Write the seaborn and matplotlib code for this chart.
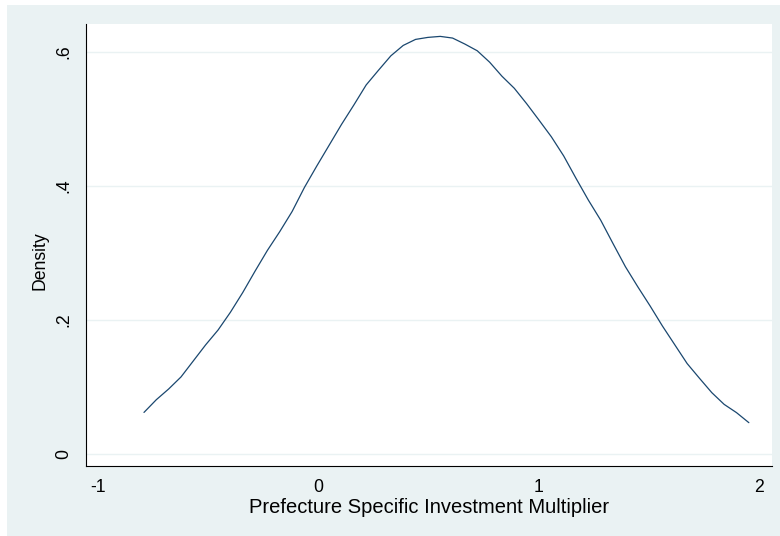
import matplotlib
matplotlib.use("Agg")
import matplotlib.pyplot as plt
import seaborn as sns
import pandas as pd
from matplotlib.patches import Rectangle

# Kernel density estimate of the prefecture specific investment multiplier
multiplier = [
    -0.790, -0.734, -0.678, -0.622, -0.566, -0.510, -0.454, -0.398, -0.342, -0.286,
    -0.230, -0.174, -0.118, -0.062, -0.006, 0.050, 0.106, 0.162, 0.218, 0.274,
    0.330, 0.386, 0.442, 0.498, 0.554, 0.610, 0.666, 0.722, 0.778, 0.834,
    0.890, 0.946, 1.002, 1.058, 1.114, 1.170, 1.226, 1.282, 1.338, 1.394,
    1.450, 1.506, 1.562, 1.618, 1.674, 1.730, 1.786, 1.842, 1.898, 1.954,
]
density = [
    0.062, 0.081, 0.097, 0.115, 0.139, 0.163, 0.185, 0.2115, 0.241, 0.273,
    0.304, 0.332, 0.362, 0.398, 0.430, 0.461, 0.492, 0.521, 0.551, 0.573,
    0.5945, 0.610, 0.619, 0.622, 0.6235, 0.621, 0.612, 0.602, 0.585, 0.564,
    0.546, 0.523, 0.4985, 0.4736, 0.445, 0.4115, 0.379, 0.349, 0.314, 0.2796,
    0.2497, 0.221, 0.191, 0.163, 0.135, 0.113, 0.0915, 0.074, 0.0617, 0.0467,
]
x_ticks = [-1, 0, 1, 2]
x_tick_labels = ["-1", "0", "1", "2"]
y_ticks = [0, 0.2, 0.4, 0.6]
y_tick_labels = ["0", ".2", ".4", ".6"]

df = pd.DataFrame({"multiplier": multiplier, "density": density})

sns.set_style("white")
plt.rcParams["font.family"] = ["Liberation Sans", "DejaVu Sans"]

W, H = 780, 536
fig = plt.figure(figsize=(W / 100, H / 100), dpi=100, facecolor="white")

# outer graph region, kept behind the plot area
fig.patches.append(Rectangle((7 / W, 0), 1 - 7 / W, (H - 5) / H,
                             transform=fig.transFigure, facecolor="#EAF2F3",
                             edgecolor="none", zorder=-10))

ax = fig.add_axes([86 / W, (H - 466) / H, (772 - 86) / W, (466 - 24) / H])
ax.set_zorder(1)
ax.set_facecolor("white")

sns.lineplot(data=df, x="multiplier", y="density", ax=ax,
             color="#1A476F", linewidth=0.9, estimator=None, sort=False)

ax.set_xlim(-1.053, 2.059)
ax.set_ylim(-0.018, 0.642)

ax.set_yticks(y_ticks)
ax.set_yticklabels(y_tick_labels, rotation=90, va="center")
ax.set_xticks(x_ticks)
ax.set_xticklabels(x_tick_labels)

for y in y_ticks:
    ax.axhline(y, color="#EAF2F3", linewidth=1.0, zorder=0)

for side in ("top", "right"):
    ax.spines[side].set_visible(False)
for side in ("left", "bottom"):
    ax.spines[side].set_color("#000000")
    ax.spines[side].set_linewidth(0.8)

ax.tick_params(axis="both", which="major", direction="out", length=6,
               width=0.8, color="#000000", labelsize=12.7, labelcolor="#000000")
ax.tick_params(axis="y", pad=4)
ax.tick_params(axis="x", pad=4, length=5.5)

ax.set_xlabel("Prefecture Specific Investment Multiplier", fontsize=14.5,
              color="#000000", labelpad=1.5)
ax.set_ylabel("Density", fontsize=12.7, color="#000000", labelpad=4.5)
ax.yaxis.label.set_y(0.464)

fig.savefig("out.png", dpi=100, facecolor="white")
